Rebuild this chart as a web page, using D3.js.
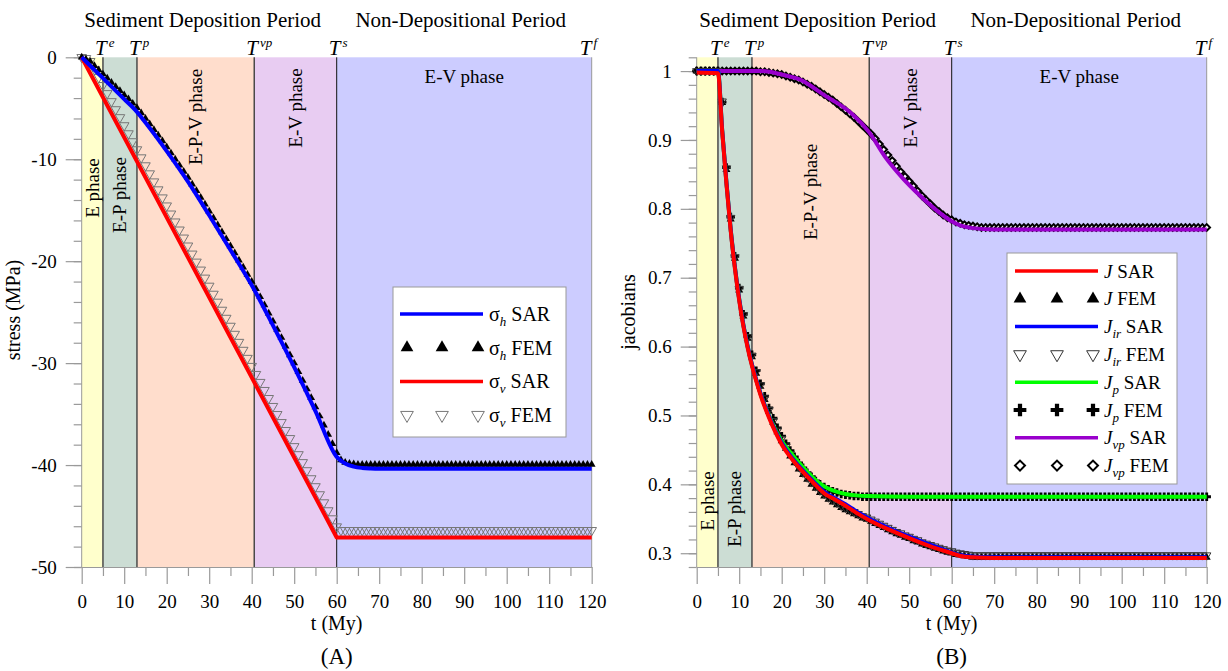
<!DOCTYPE html>
<html>
<head>
<meta charset="utf-8">
<script src="https://cdn.jsdelivr.net/npm/d3@7"></script>
<style>
  body { margin: 0; background: #fff; }
  svg { display: block; }
  text { font-family: "Liberation Serif", "Times New Roman", serif; }
</style>
</head>
<body>
<div id="chart"></div>
<script>
// ---- phases (shared by both panels) ----
const phaseBounds = [0, 5, 13, 40.6, 60, 120];
const phaseNames = ["E phase", "E-P phase", "E-P-V phase", "E-V phase", "E-V phase"];
const phaseColors = ["#ffffcc", "#ccddd4", "#ffddcc", "#e8ccf2", "#ccccff"];
const boundMarks = ["e", "p", "vp", "s", "f"];

// FEM output every 1 My
const tFem = d3.range(0, 121);

// ---- panel A: stresses (MPa) ----
const tSigmaH = [0, 5, 10, 13, 15, 20, 25, 30, 35, 40.6, 45, 50, 55, 60, 62, 64, 66, 68, 70, 120];
const sigmaHSar = [0, -2.05, -4.1, -5.35, -6.4, -9.2, -12.2, -15.5, -18.9, -22.8, -26.3, -30.4, -34.7, -39.2,
  -39.85, -40.15, -40.28, -40.33, -40.35, -40.35];
const tSigmaV = [0, 60, 120];
const sigmaVSar = [0, -47.1, -47.1];

const sigmaHFem = [
  0, -0.2, -0.42, -0.83, -1.24, -1.65, -2.06, -2.47, -2.88, -3.29,
  -3.7, -4.1, -4.52, -4.95, -5.47, -6.0, -6.55, -7.1, -7.65, -8.22,
  -8.8, -9.4, -10.0, -10.6, -11.2, -11.8, -12.45, -13.1, -13.75, -14.42,
  -15.1, -15.77, -16.45, -17.13, -17.81, -18.5, -19.2, -19.9, -20.6, -21.3,
  -22.0, -22.7, -23.5, -24.3, -25.1, -25.9, -26.7, -27.5, -28.35, -29.2,
  -30.0, -30.85, -31.7, -32.55, -33.4, -34.3, -35.2, -36.1, -37.0, -37.9,
  -38.8, -39.5, -39.75, -39.85, -39.9,
  -39.95, -39.95, -39.95, -39.95, -39.95, -39.95, -39.95, -39.95,
  -39.95, -39.95, -39.95, -39.95, -39.95, -39.95, -39.95, -39.95,
  -39.95, -39.95, -39.95, -39.95, -39.95, -39.95, -39.95, -39.95,
  -39.95, -39.95, -39.95, -39.95, -39.95, -39.95, -39.95, -39.95,
  -39.95, -39.95, -39.95, -39.95, -39.95, -39.95, -39.95, -39.95,
  -39.95, -39.95, -39.95, -39.95, -39.95, -39.95, -39.95, -39.95,
  -39.95, -39.95, -39.95, -39.95, -39.95, -39.95, -39.95, -39.95
];
const sigmaVFem = [
  0, -0.1, -0.39, -1.18, -1.97, -2.75, -3.54, -4.33, -5.12, -5.9,
  -6.69, -7.48, -8.26, -9.05, -9.84, -10.62, -11.41, -12.2, -12.98, -13.77,
  -14.56, -15.35, -16.13, -16.92, -17.71, -18.49, -19.28, -20.07, -20.85, -21.64,
  -22.43, -23.22, -24.0, -24.79, -25.58, -26.36, -27.15, -27.94, -28.72, -29.51,
  -30.3, -31.09, -31.87, -32.66, -33.45, -34.23, -35.02, -35.81, -36.59, -37.38,
  -38.17, -38.96, -39.74, -40.53, -41.32, -42.1, -42.89, -43.68, -44.46, -45.25,
  -46.04,
  -46.4, -46.4, -46.4, -46.4, -46.4, -46.4, -46.4, -46.4, -46.4, -46.4,
  -46.4, -46.4, -46.4, -46.4, -46.4, -46.4, -46.4, -46.4, -46.4, -46.4,
  -46.4, -46.4, -46.4, -46.4, -46.4, -46.4, -46.4, -46.4, -46.4, -46.4,
  -46.4, -46.4, -46.4, -46.4, -46.4, -46.4, -46.4, -46.4, -46.4, -46.4,
  -46.4, -46.4, -46.4, -46.4, -46.4, -46.4, -46.4, -46.4, -46.4, -46.4,
  -46.4, -46.4, -46.4, -46.4, -46.4, -46.4, -46.4, -46.4, -46.4, -46.4
];

// ---- panel B: jacobians ----
const tJ = [0, 5, 6, 7, 8, 9, 10, 11, 12, 13, 14, 15, 17, 20, 22.5, 25, 27.5, 30, 32.5, 35, 37.5, 40.6,
  45, 50, 55, 60, 62, 65, 70, 120];
const jSar = [0.998, 0.997, 0.912, 0.836, 0.768, 0.713, 0.667, 0.629, 0.598, 0.572, 0.55, 0.53, 0.497, 0.458,
  0.436, 0.418, 0.402, 0.387, 0.378, 0.369, 0.359, 0.348, 0.335, 0.322, 0.31, 0.3, 0.296, 0.294, 0.293, 0.293];
const jIrSar = [1, 1, 0.914, 0.838, 0.77, 0.715, 0.669, 0.631, 0.6, 0.574, 0.552, 0.532, 0.499, 0.46,
  0.438, 0.42, 0.404, 0.389, 0.38, 0.371, 0.361, 0.35, 0.337, 0.324, 0.312, 0.301, 0.297, 0.295, 0.294, 0.294];
const tJp = [0, 5, 6, 7, 8, 9, 10, 11, 12, 13, 14, 15, 17, 20, 22.5, 25, 27.5, 30, 32.5, 35, 37.5, 40, 50, 120];
const jpSar = [1, 1, 0.914, 0.838, 0.77, 0.715, 0.669, 0.631, 0.6, 0.574, 0.552, 0.532, 0.5, 0.463,
  0.443, 0.425, 0.409, 0.397, 0.39, 0.386, 0.384, 0.383, 0.382, 0.382];
const tJvp = [0, 15, 17.1, 20, 24.9, 27.7, 30, 32.7, 36.7, 40.6, 44.5, 48.4, 52.4, 56, 60, 62, 65, 70, 120];
const jvpSar = [1, 1, 0.999, 0.995, 0.986, 0.975, 0.965, 0.955, 0.937, 0.911, 0.874, 0.845, 0.82, 0.8,
  0.782, 0.776, 0.772, 0.77, 0.77];

const jFem = [
  1, 1, 1, 0.999, 0.999, 0.998, 0.954, 0.857, 0.785, 0.728,
  0.682, 0.644, 0.612, 0.585, 0.561, 0.542, 0.523, 0.506, 0.49, 0.476,
  0.463, 0.452, 0.441, 0.431, 0.422, 0.414, 0.407, 0.4, 0.394, 0.388,
  0.383, 0.378, 0.374, 0.37, 0.366, 0.363, 0.36, 0.357, 0.354, 0.351,
  0.349, 0.346, 0.343, 0.34, 0.337, 0.334, 0.331, 0.328, 0.326, 0.323,
  0.321, 0.318, 0.316, 0.313, 0.311, 0.309, 0.307, 0.305, 0.303, 0.301,
  0.3, 0.298, 0.297, 0.296, 0.295, 0.294,
  0.294, 0.294, 0.294, 0.294, 0.294, 0.294, 0.294, 0.294, 0.294, 0.294, 0.294,
  0.294, 0.294, 0.294, 0.294, 0.294, 0.294, 0.294, 0.294, 0.294, 0.294, 0.294,
  0.294, 0.294, 0.294, 0.294, 0.294, 0.294, 0.294, 0.294, 0.294, 0.294, 0.294,
  0.294, 0.294, 0.294, 0.294, 0.294, 0.294, 0.294, 0.294, 0.294, 0.294, 0.294,
  0.294, 0.294, 0.294, 0.294, 0.294, 0.294, 0.294, 0.294, 0.294, 0.294, 0.294
];
const jIrFem = [
  1, 1, 1, 1, 1, 1, 0.956, 0.859, 0.787, 0.73,
  0.684, 0.646, 0.614, 0.587, 0.563, 0.544, 0.525, 0.508, 0.492, 0.478,
  0.466, 0.455, 0.444, 0.434, 0.425, 0.417, 0.41, 0.403, 0.397, 0.391,
  0.386, 0.381, 0.377, 0.373, 0.369, 0.366, 0.363, 0.36, 0.357, 0.354,
  0.352, 0.349, 0.346, 0.343, 0.34, 0.337, 0.334, 0.331, 0.329, 0.326,
  0.324, 0.321, 0.319, 0.316, 0.314, 0.312, 0.31, 0.308, 0.306, 0.304,
  0.303, 0.301, 0.3, 0.299, 0.298, 0.297,
  0.297, 0.297, 0.297, 0.297, 0.297, 0.297, 0.297, 0.297, 0.297, 0.297, 0.297,
  0.297, 0.297, 0.297, 0.297, 0.297, 0.297, 0.297, 0.297, 0.297, 0.297, 0.297,
  0.297, 0.297, 0.297, 0.297, 0.297, 0.297, 0.297, 0.297, 0.297, 0.297, 0.297,
  0.297, 0.297, 0.297, 0.297, 0.297, 0.297, 0.297, 0.297, 0.297, 0.297, 0.297,
  0.297, 0.297, 0.297, 0.297, 0.297, 0.297, 0.297, 0.297, 0.297, 0.297, 0.297
];
const jpFem = [
  1, 1, 1, 1, 1, 1, 0.955, 0.86, 0.788, 0.731,
  0.685, 0.647, 0.615, 0.588, 0.565, 0.546, 0.528, 0.511, 0.496, 0.482,
  0.47, 0.459, 0.449, 0.44, 0.431, 0.424, 0.417, 0.411, 0.405, 0.4,
  0.396, 0.393, 0.39, 0.388, 0.386, 0.385, 0.384, 0.383, 0.383, 0.382,
  0.382, 0.382, 0.382, 0.382, 0.382, 0.382, 0.382, 0.382, 0.382,
  0.382, 0.382, 0.382, 0.382, 0.382, 0.382, 0.382, 0.382, 0.382,
  0.382, 0.382, 0.382, 0.382, 0.382, 0.382, 0.382, 0.382, 0.382,
  0.382, 0.382, 0.382, 0.382, 0.382, 0.382, 0.382, 0.382, 0.382,
  0.382, 0.382, 0.382, 0.382, 0.382, 0.382, 0.382, 0.382, 0.382,
  0.382, 0.382, 0.382, 0.382, 0.382, 0.382, 0.382, 0.382, 0.382,
  0.382, 0.382, 0.382, 0.382, 0.382, 0.382, 0.382, 0.382, 0.382,
  0.382, 0.382, 0.382, 0.382, 0.382, 0.382, 0.382, 0.382, 0.382,
  0.382, 0.382, 0.382, 0.382, 0.382, 0.382, 0.382, 0.382, 0.382
];
const jvpFem = [
  1, 1, 1, 1, 1, 1, 1, 1, 1, 1, 1, 1, 1, 1, 1,
  0.999, 0.999, 0.998, 0.997, 0.996,
  0.995, 0.993, 0.991, 0.989, 0.987, 0.984, 0.981, 0.978, 0.974, 0.97,
  0.966, 0.962, 0.958, 0.953, 0.948, 0.943, 0.938, 0.933, 0.927, 0.921,
  0.915, 0.909, 0.902, 0.894, 0.886, 0.878, 0.87, 0.862, 0.854, 0.847,
  0.84, 0.833, 0.826, 0.819, 0.813, 0.807, 0.801, 0.796, 0.791, 0.787,
  0.784, 0.781, 0.779, 0.777, 0.776, 0.775, 0.774,
  0.773, 0.773, 0.773, 0.773, 0.773, 0.773, 0.773, 0.773, 0.773,
  0.773, 0.773, 0.773, 0.773, 0.773, 0.773, 0.773, 0.773, 0.773,
  0.773, 0.773, 0.773, 0.773, 0.773, 0.773, 0.773, 0.773, 0.773,
  0.773, 0.773, 0.773, 0.773, 0.773, 0.773, 0.773, 0.773, 0.773,
  0.773, 0.773, 0.773, 0.773, 0.773, 0.773, 0.773, 0.773, 0.773,
  0.773, 0.773, 0.773, 0.773, 0.773, 0.773, 0.773, 0.773, 0.773
];

// ---- drawing ----
const svg = d3.select("#chart").append("svg").attr("width", 1228).attr("height", 671);

const plotTop = 57.3, plotBottom = 567, plotWidth = 510;

// marker styles
function markerAttrs(sel, kind, size) {
  let shape = d3.symbolTriangle, rot = 0;
  if (kind === "triDown") rot = 180;
  if (kind === "plus") shape = d3.symbolCross;
  if (kind === "diamond") { shape = d3.symbolSquare; rot = 45; }
  sel.attr("d", d3.symbol().type(shape).size(size)())
    .attr("fill", kind === "triUp" || kind === "plus" ? "#000" : (kind === "diamond" ? "#fff" : "none"))
    .attr("stroke", kind === "triDown" ? "#555" : (kind === "diamond" ? "#000" : "none"))
    .attr("stroke-width", kind === "diamond" ? 2 : 1);
  return rot;
}

function drawPanel(cfg) {
  const g = svg.append("g");
  const x = d3.scaleLinear().domain([0, 120]).range([cfg.left, cfg.left + plotWidth]);
  const y = d3.scaleLinear().domain(cfg.yDomain).range([plotBottom, plotTop]);

  const bands = phaseNames.map((n, i) => ({ name: n, start: phaseBounds[i], end: phaseBounds[i + 1], color: phaseColors[i] }));
  g.selectAll("rect.band").data(bands).join("rect")
    .attr("x", d => x(d.start)).attr("y", plotTop)
    .attr("width", d => x(d.end) - x(d.start)).attr("height", plotBottom - plotTop)
    .attr("fill", d => d.color);

  // boundary lines
  const lineStyle = [["#4a4a4a", 1.5], ["#4a4a4a", 1.5], ["#4a4a4a", 1.5], ["#111", 1], ["#999", 1]];
  g.selectAll("line.bound").data(phaseBounds.slice(1)).join("line")
    .attr("x1", d => x(d)).attr("x2", d => x(d))
    .attr("y1", plotTop).attr("y2", plotBottom)
    .attr("stroke", (d, i) => lineStyle[i][0]).attr("stroke-width", (d, i) => lineStyle[i][1]);
  g.append("line").attr("x1", x(0)).attr("x2", x(0)).attr("y1", plotTop).attr("y2", plotBottom)
    .attr("stroke", "#999");

  // y axis (major + minor)
  const yMaj = g.append("g").attr("transform", `translate(${x(0)},0)`)
    .call(d3.axisLeft(y).tickValues(cfg.yMajor).tickSize(16).tickPadding(9).tickFormat(cfg.yFormat));
  const yMin = g.append("g").attr("transform", `translate(${x(0)},0)`)
    .call(d3.axisLeft(y).tickValues(cfg.yMinor).tickSize(8).tickFormat(""));
  // x axis (major + minor)
  const xMaj = g.append("g").attr("transform", `translate(0,${plotBottom})`)
    .call(d3.axisBottom(x).tickValues(d3.range(0, 121, 10)).tickSize(17).tickSizeOuter(0).tickPadding(11).tickFormat(d => String(d)));
  const xMin = g.append("g").attr("transform", `translate(0,${plotBottom})`)
    .call(d3.axisBottom(x).tickValues(d3.range(5, 120, 10)).tickSize(9).tickFormat(""));
  [yMaj, yMin, xMaj, xMin].forEach(a => {
    a.attr("font-family", null).attr("font-size", 19);
    a.selectAll(".tick line").attr("stroke", "#9a9a9a").attr("stroke-width", 1.2);
    a.selectAll("text").attr("fill", "#000");
  });
  yMaj.select(".domain").remove();
  yMin.select(".domain").remove();
  xMin.select(".domain").remove();
  xMaj.select(".domain").attr("stroke", "#9a9a9a");

  // phase labels
  bands.forEach((b, i) => {
    const cx = x((b.start + b.end) / 2), cy = cfg.phaseY[i];
    const t = g.append("text").attr("font-size", 19).attr("text-anchor", "middle").text(b.name);
    if (i < 4) t.attr("transform", `translate(${cx},${cy}) rotate(-90)`).attr("dy", "0.33em");
    else t.attr("x", cx).attr("y", cy).attr("dy", "0.33em");
  });

  // period titles
  g.append("text").attr("x", cfg.left + 121).attr("y", 27).attr("font-size", 21).attr("text-anchor", "middle")
    .text("Sediment Deposition Period");
  g.append("text").attr("x", cfg.left + 379).attr("y", 27).attr("font-size", 21).attr("text-anchor", "middle")
    .text("Non-Depositional Period");

  // T labels
  phaseBounds.slice(1).forEach((b, i) => {
    const t = g.append("text").attr("x", x(b) - (i === 4 ? 12 : 8)).attr("y", 55).attr("font-size", 21);
    t.append("tspan").attr("font-style", "italic").text("T");
    t.append("tspan").attr("font-style", "italic").attr("font-size", 13).attr("dx", 2).attr("dy", -8).text(boundMarks[i]);
  });

  // axis titles
  g.append("text").attr("transform", `translate(${cfg.left - 62},${cfg.yTitleY}) rotate(-90)`)
    .attr("font-size", 20).attr("text-anchor", "middle").text(cfg.yTitle);
  g.append("text").attr("x", x(60)).attr("y", 630).attr("font-size", 20).attr("text-anchor", "middle").text("t (My)");
  g.append("text").attr("x", x(60)).attr("y", 664).attr("font-size", 23).attr("text-anchor", "middle").text(cfg.tag);

  // FEM markers
  cfg.fem.forEach(s => {
    const sel = g.append("g").selectAll("path").data(tFem.map((t, i) => [t, s.values[i]])).join("path");
    const rot = markerAttrs(sel, s.kind, s.size);
    sel.attr("transform", d => `translate(${x(d[0])},${y(d[1])}) rotate(${rot})`);
    if (s.kind === "triDown" && s.stroke) sel.attr("stroke", s.stroke);
  });

  // SAR lines
  cfg.sar.forEach(s => {
    const line = d3.line().x(d => x(d[0])).y(d => y(d[1])).curve(s.linear ? d3.curveLinear : d3.curveMonotoneX);
    g.append("path").datum(s.t.map((t, i) => [t, s.values[i]]))
      .attr("d", line).attr("fill", "none").attr("stroke", s.color).attr("stroke-width", 4)
      .attr("stroke-linejoin", "round");
  });

  // legend
  const L = cfg.legend;
  const lg = g.append("g").attr("transform", `translate(${L.x},${L.y})`);
  lg.append("rect").attr("width", L.w).attr("height", L.h).attr("fill", "#fff").attr("stroke", "#999");
  L.items.forEach((it, i) => {
    const yy = L.first + i * L.step;
    if (it.color) {
      lg.append("line").attr("x1", L.lineX[0]).attr("x2", L.lineX[1]).attr("y1", yy).attr("y2", yy)
        .attr("stroke", it.color).attr("stroke-width", 3.5);
    } else {
      const sel = lg.append("g").selectAll("path").data(L.markX).join("path");
      const rot = markerAttrs(sel, it.kind, it.size);
      sel.attr("transform", d => `translate(${d},${yy}) rotate(${rot})`);
      if (it.kind === "triDown" && it.stroke) sel.attr("stroke", it.stroke);
    }
    const t = lg.append("text").attr("x", L.textX).attr("y", yy).attr("dy", "0.35em").attr("font-size", L.font);
    t.append("tspan").attr("font-style", it.mainItalic ? "italic" : null).text(it.main);
    if (it.sub) {
      t.append("tspan").attr("font-style", "italic").attr("font-size", 13).attr("dy", 5).text(it.sub);
      t.append("tspan").attr("dy", -5).text(" " + it.tail);
    } else {
      t.append("tspan").text(" " + it.tail);
    }
  });
}

drawPanel({
  left: 81.7, yDomain: [-50, 0], tag: "(A)", yTitle: "stress (MPa)", yTitleY: 310,
  yMajor: d3.range(-50, 1, 10), yMinor: d3.range(-50, 1, 2), yFormat: d => String(d),
  phaseY: [188, 195, 117, 108, 77],
  fem: [
    { values: sigmaVFem, kind: "triDown", size: 40, stroke: "#777" },
    { values: sigmaHFem, kind: "triUp", size: 26 }
  ],
  sar: [
    { t: tSigmaV, values: sigmaVSar, color: "#ff0000", linear: true },
    { t: tSigmaH, values: sigmaHSar, color: "#0000ff" }
  ],
  legend: {
    x: 393, y: 287, w: 173, h: 150, first: 27, step: 33.7, font: 20,
    lineX: [7, 90], markX: [14, 49, 85], textX: 96,
    items: [
      { color: "#0000ff", main: "σ", sub: "h", tail: "SAR" },
      { kind: "triUp", size: 70, main: "σ", sub: "h", tail: "FEM" },
      { color: "#ff0000", main: "σ", sub: "v", tail: "SAR" },
      { kind: "triDown", size: 70, stroke: "#777", main: "σ", sub: "v", tail: "FEM" }
    ]
  }
});

drawPanel({
  left: 696.7, yDomain: [0.28, 1.02], tag: "(B)", yTitle: "jacobians", yTitleY: 312,
  yMajor: [0.3, 0.4, 0.5, 0.6, 0.7, 0.8, 0.9, 1], yMinor: d3.range(0.28, 1.021, 0.02),
  yFormat: d => (d === 1 ? "1" : d.toFixed(1)),
  phaseY: [501, 509, 192, 108, 77],
  fem: [
    { values: jvpFem, kind: "diamond", size: 22 },
    { values: jpFem, kind: "plus", size: 40 },
    { values: jFem, kind: "triUp", size: 28 },
    { values: jIrFem, kind: "triDown", size: 30, stroke: "#333" }
  ],
  sar: [
    { t: tJvp, values: jvpSar, color: "#9900cc" },
    { t: tJp, values: jpSar, color: "#00ff00" },
    { t: tJ, values: jIrSar, color: "#0000ff" },
    { t: tJ, values: jSar, color: "#ff0000" }
  ],
  legend: {
    x: 1007, y: 253, w: 170, h: 231, first: 18, step: 27.8, font: 19,
    lineX: [8, 91], markX: [13, 50, 86], textX: 97,
    items: [
      { color: "#ff0000", main: "J", mainItalic: true, tail: "SAR" },
      { kind: "triUp", size: 70, main: "J", mainItalic: true, tail: "FEM" },
      { color: "#0000ff", main: "J", mainItalic: true, sub: "ir", tail: "SAR" },
      { kind: "triDown", size: 70, stroke: "#333", main: "J", mainItalic: true, sub: "ir", tail: "FEM" },
      { color: "#00ff00", main: "J", mainItalic: true, sub: "p", tail: "SAR" },
      { kind: "plus", size: 90, main: "J", mainItalic: true, sub: "p", tail: "FEM" },
      { color: "#9900cc", main: "J", mainItalic: true, sub: "vp", tail: "SAR" },
      { kind: "diamond", size: 50, main: "J", mainItalic: true, sub: "vp", tail: "FEM" }
    ]
  }
});
</script>
</body>
</html>
